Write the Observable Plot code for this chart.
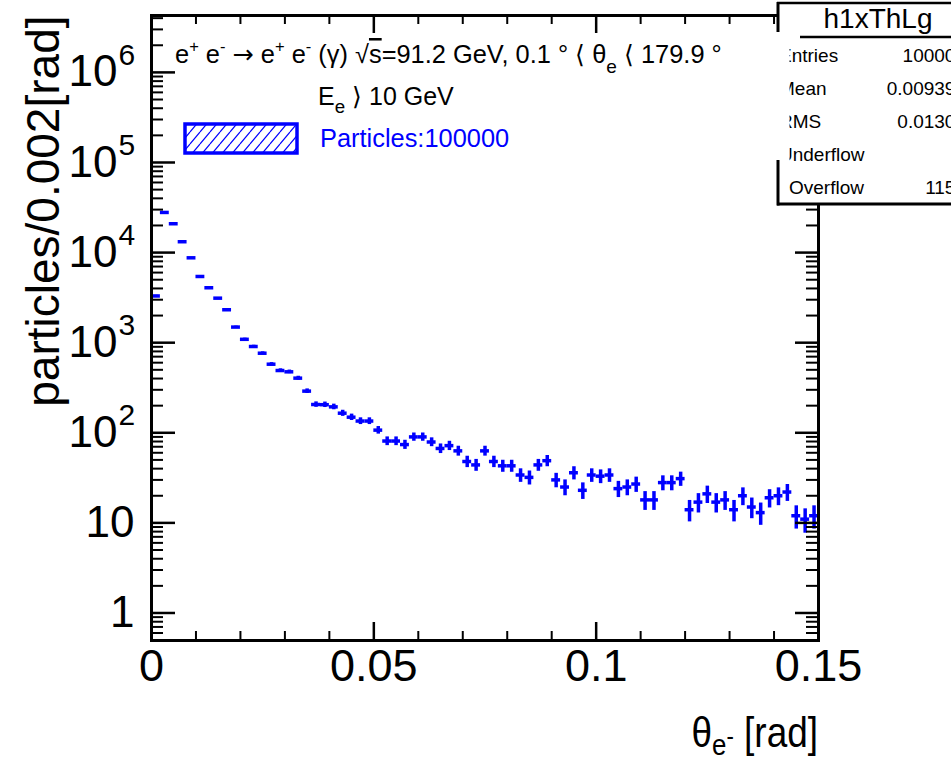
<!DOCTYPE html>
<html><head><meta charset="utf-8">
<script src="https://cdn.jsdelivr.net/npm/d3@7"></script>
<script src="https://cdn.jsdelivr.net/npm/@observablehq/plot@0.6"></script>
<style>
body{margin:0;background:#fff;}
#chart{position:relative;width:951px;height:759px;overflow:hidden;background:#fff}
</style>
</head><body><div id="chart"></div>
<script>
// ---- data ----
const binWidth = 0.002;
const counts = [
  3300, 27900, 20900, 13200, 8750, 5430, 4070, 3120, 2320, 1490,
  1090, 907, 764, 577, 491, 475, 404, 290, 206, 205,
  194, 165, 149, 135, 135, 107, 81, 81, 74, 90,
  90, 79, 67, 72, 63, 48, 44, 63, 48, 43,
  43, 34, 32, 44, 49, 30, 25, 36, 23, 34,
  33, 34, 24, 25, 27, 18, 18, 28, 28, 31,
  14, 17, 21, 17, 18, 14, 20, 15, 13, 19,
  20, 22, 12, 11, 12
];
const xMajorTicks = [0, 0.05, 0.1, 0.15];
const xTickLabels = ["0", "0.05", "0.1", "0.15"];
const xMinorTicks = [0.01,0.02,0.03,0.04,0.06,0.07,0.08,0.09,0.11,0.12,0.13,0.14];
const yMajorTicks = [1, 10, 100, 1000, 10000, 100000, 1000000];
const yMinorTicks = [0.6,0.7,0.8,0.9, 2,3,4,5,6,7,8,9, 20,30,40,50,60,70,80,90,
  200,300,400,500,600,700,800,900, 2000,3000,4000,5000,6000,7000,8000,9000,
  2e4,3e4,4e4,5e4,6e4,7e4,8e4,9e4, 2e5,3e5,4e5,5e5,6e5,7e5,8e5,9e5, 2e6,3e6,4e6];
const statsTitle = "h1xThLg";
const statsLabels = ["Entries", "Mean", "RMS", "Underflow", "Overflow"];
const statsValues = ["100000", "0.009394", "0.01306", "0", "1152"];
const legendLabel = "Particles:100000";
const yTitle = "particles/0.002[rad]";

const bins = counts.map((n, i) => ({lo: i * binWidth, hi: (i + 1) * binWidth, mid: (i + 0.5) * binWidth, n}));

// ---- layout ----
const W = 951, H = 759;
const fLeft = 151, fRight = 818, fTop = 15, fBottom = 640;
const iw = fRight - fLeft, ih = fBottom - fTop;
const blue = "#0000ff";
const font = "'Liberation Sans', Arial, Helvetica, sans-serif";

const chart = Plot.plot({
  width: W, height: H,
  marginLeft: fLeft, marginRight: W - fRight, marginTop: fTop, marginBottom: H - fBottom,
  x: {domain: [0, 0.15], axis: null},
  y: {type: "log", domain: [0.495, 4.28e6], axis: null},
  style: {fontFamily: font, background: "white", color: "black"},
  marks: [
    // data: horizontal bin bars and vertical sqrt(N) errors
    Plot.ruleY(bins, {y: "n", x1: "lo", x2: "hi", stroke: blue, strokeWidth: 3.5}),
    Plot.ruleX(bins, {x: "mid", y1: d => d.n - Math.sqrt(d.n), y2: d => d.n + Math.sqrt(d.n), stroke: blue, strokeWidth: 3.5}),
    // ticks inside the frame on all four sides
    Plot.tickY(yMajorTicks, {y: d => d, insetRight: iw - 24, stroke: "black", strokeWidth: 2.5}),
    Plot.tickY(yMajorTicks, {y: d => d, insetLeft: iw - 23, stroke: "black", strokeWidth: 2.5}),
    Plot.tickY(yMinorTicks, {y: d => d, insetRight: iw - 12, stroke: "black", strokeWidth: 2}),
    Plot.tickY(yMinorTicks, {y: d => d, insetLeft: iw - 12, stroke: "black", strokeWidth: 2}),
    Plot.tickX(xMajorTicks, {x: d => d, insetTop: ih - 18, stroke: "black", strokeWidth: 2.5}),
    Plot.tickX(xMajorTicks, {x: d => d, insetBottom: ih - 18, stroke: "black", strokeWidth: 2.5}),
    Plot.tickX(xMinorTicks, {x: d => d, insetTop: ih - 9, stroke: "black", strokeWidth: 2}),
    Plot.tickX(xMinorTicks, {x: d => d, insetBottom: ih - 9, stroke: "black", strokeWidth: 2}),
    Plot.frame({stroke: "black", strokeWidth: 3}),
    // y tick labels: plain ones, then 10^n bases and exponents
    Plot.text(yMajorTicks.filter(d => d < 100), {y: d => d, text: d => String(d), frameAnchor: "left",
      dx: -17, textAnchor: "end", fontSize: 44, fill: "black"}),
    Plot.text(yMajorTicks.filter(d => d >= 100), {y: d => d, text: d => "10", frameAnchor: "left",
      dx: -34, textAnchor: "end", fontSize: 44, fill: "black"}),
    Plot.text(yMajorTicks.filter(d => d >= 100), {y: d => d, text: d => String(Math.round(Math.log10(d))), frameAnchor: "left",
      dx: -33, dy: -17, textAnchor: "start", fontSize: 30, fill: "black"}),
    // x tick labels
    Plot.text(xMajorTicks, {x: d => d, text: (d, i) => xTickLabels[i], frameAnchor: "bottom", dy: 26,
      lineAnchor: "middle", fontSize: 45, fill: "black"}),
    // y title
    Plot.text([yTitle], {text: d => d, frameAnchor: "top-left", dx: -107, dy: 0,
      rotate: -90, textAnchor: "end", lineAnchor: "middle", fontSize: 46, fill: "black"})
  ]
});
document.getElementById("chart").appendChild(chart);

// ---- annotations (rich text, legend, stats box) ----
const svg = d3.select(chart);
const ann = svg.append("g").attr("font-family", font).attr("text-anchor", "start");

// parts: [text, dyFraction(+down), scale, decoration, family]
function rich(g, x, y, parts, size, fill, anchor) {
  const t = g.append("text").attr("x", x).attr("y", y).attr("font-size", size)
    .attr("fill", fill).attr("text-anchor", anchor || "start");
  let shift = 0;
  for (const p of parts) {
    const [s, off = 0, scale = 1, deco, fam] = p;
    const target = off * size;
    const ts = t.append("tspan").text(s).attr("dy", target - shift);
    if (scale !== 1) ts.attr("font-size", size * scale);
    if (deco) ts.style("text-decoration", deco);
    if (fam) ts.attr("font-family", fam);
    shift = target;
  }
  return t;
}
const SUP = -0.42, SUB = 0.38;
rich(ann, 175, 63, [
  ["e"], ["+", SUP, 0.65], [" e"], ["-", SUP, 0.65], [" "], ["→", 0, 1, null, "DejaVu Sans"], [" e"], ["+", SUP, 0.65], [" e"], ["-", SUP, 0.65],
  [" (γ) √"], ["s", 0, 1, "overline"], ["=91.2 GeV, 0.1 ° ⟨ θ"], ["e", SUB, 0.75], [" ⟨ 179.9 °"]
], 25.4, "black");
rich(ann, 318, 105, [["E"], ["e", 0.3, 0.75], [" ⟩ 10 GeV"]], 25, "black");

// legend entry with hatched box
const defs = svg.append("defs");
const pat = defs.append("pattern").attr("id", "hatch").attr("patternUnits", "userSpaceOnUse")
  .attr("width", 10).attr("height", 12);
pat.append("path").attr("d", "M0,12 L10,0 M-5,6 L0,0 M10,12 L15,6").attr("stroke", blue).attr("stroke-width", 1.2);
ann.append("rect").attr("x", 185).attr("y", 124).attr("width", 112).attr("height", 29)
  .attr("fill", "url(#hatch)").attr("stroke", blue).attr("stroke-width", 3.5);
ann.append("text").attr("x", 320).attr("y", 147).attr("font-size", 25.4).attr("fill", blue).text(legendLabel);

// x title (slightly condensed, like the reference)
const xt = ann.append("g").attr("transform", "translate(818,747) scale(0.88,1)");
rich(xt, 0, 0, [["θ"], ["e", 0.2, 0.7], ["-", -0.05, 0.6], [" [rad]"]], 42, "black", "end");

// stats box
const sb = ann.append("g");
sb.append("rect").attr("x", 778).attr("y", 3).attr("width", 220).attr("height", 201).attr("fill", "white");
sb.append("line").attr("x1", 777).attr("x2", 1000).attr("y1", 3).attr("y2", 3).attr("stroke", "black").attr("stroke-width", 2.5);
sb.append("line").attr("x1", 777).attr("x2", 1000).attr("y1", 204).attr("y2", 204).attr("stroke", "black").attr("stroke-width", 3);
sb.append("line").attr("x1", 800).attr("x2", 1000).attr("y1", 37).attr("y2", 37).attr("stroke", "black").attr("stroke-width", 2.5);
sb.append("text").attr("x", 878).attr("y", 28).attr("font-size", 28).attr("text-anchor", "middle").text(statsTitle);
const rowY = [62, 95, 128, 161, 194];
statsLabels.forEach((s, i) => {
  sb.append("text").attr("x", i === 4 ? 789 : 779).attr("y", rowY[i]).attr("font-size", 19).attr("text-anchor", "start").text(s);
  sb.append("text").attr("x", 966).attr("y", rowY[i]).attr("font-size", 19).attr("text-anchor", "end").text(statsValues[i]);
});
sb.append("rect").attr("x", 776).attr("y", 38).attr("width", 13.5).attr("height", 128).attr("fill", "white");
sb.append("line").attr("x1", 778).attr("x2", 778).attr("y1", 2).attr("y2", 32).attr("stroke", "black").attr("stroke-width", 3);
sb.append("line").attr("x1", 778).attr("x2", 778).attr("y1", 160).attr("y2", 205.5).attr("stroke", "black").attr("stroke-width", 3);
</script>
</body></html>
